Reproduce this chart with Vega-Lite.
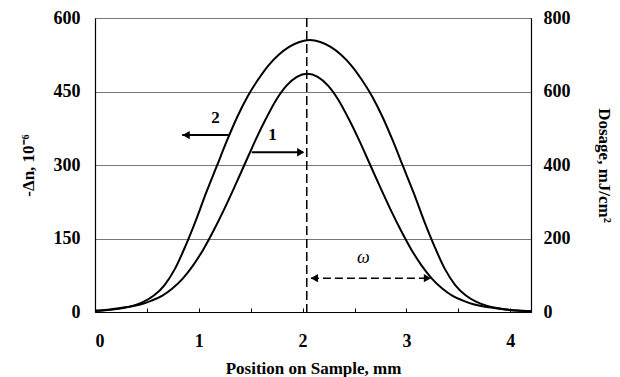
{
  "$schema": "https://vega.github.io/schema/vega-lite/v6.json",
  "width": 436,
  "height": 294,
  "autosize": "none",
  "padding": {"left": 95, "top": 18, "right": 89, "bottom": 65},
  "background": "white",
  "config": {
    "view": {"stroke": "black", "strokeWidth": 1},
    "font": "Liberation Serif",
    "axis": {
      "labelFont": "Liberation Serif",
      "titleFont": "Liberation Serif",
      "labelFontWeight": "bold",
      "titleFontWeight": "bold",
      "labelFontSize": 18,
      "titleFontSize": 17,
      "labelColor": "black",
      "titleColor": "black",
      "domainColor": "black",
      "domainWidth": 1.2,
      "tickColor": "black"
    }
  },
  "datasets": {
    "dn": [
      {"x": 0, "v": 2}, {"x": 0.07, "v": 3}, {"x": 0.17, "v": 5}, {"x": 0.27, "v": 8},
      {"x": 0.37, "v": 13}, {"x": 0.47, "v": 21}, {"x": 0.57, "v": 34}, {"x": 0.67, "v": 55},
      {"x": 0.77, "v": 88}, {"x": 0.87, "v": 134}, {"x": 0.97, "v": 186}, {"x": 1.07, "v": 243},
      {"x": 1.17, "v": 296}, {"x": 1.27, "v": 349}, {"x": 1.37, "v": 398}, {"x": 1.47, "v": 440},
      {"x": 1.57, "v": 474}, {"x": 1.67, "v": 503}, {"x": 1.77, "v": 525}, {"x": 1.87, "v": 541},
      {"x": 1.97, "v": 551}, {"x": 2.07, "v": 555}, {"x": 2.17, "v": 551}, {"x": 2.27, "v": 541},
      {"x": 2.37, "v": 525}, {"x": 2.47, "v": 503}, {"x": 2.57, "v": 474}, {"x": 2.67, "v": 440},
      {"x": 2.77, "v": 398}, {"x": 2.87, "v": 349}, {"x": 2.97, "v": 296}, {"x": 3.07, "v": 243},
      {"x": 3.17, "v": 186}, {"x": 3.27, "v": 134}, {"x": 3.37, "v": 88}, {"x": 3.47, "v": 55},
      {"x": 3.57, "v": 34}, {"x": 3.67, "v": 21}, {"x": 3.77, "v": 13}, {"x": 3.87, "v": 8},
      {"x": 3.97, "v": 5}, {"x": 4.07, "v": 3}, {"x": 4.2, "v": 2}
    ],
    "dose": [
      {"x": 0, "d": 4}, {"x": 0.045, "d": 4}, {"x": 0.145, "d": 7}, {"x": 0.245, "d": 11},
      {"x": 0.345, "d": 15}, {"x": 0.445, "d": 21}, {"x": 0.545, "d": 31}, {"x": 0.645, "d": 44},
      {"x": 0.745, "d": 64}, {"x": 0.845, "d": 91}, {"x": 0.945, "d": 127}, {"x": 1.045, "d": 171},
      {"x": 1.145, "d": 223}, {"x": 1.245, "d": 280}, {"x": 1.345, "d": 341}, {"x": 1.445, "d": 404},
      {"x": 1.545, "d": 467}, {"x": 1.645, "d": 525}, {"x": 1.745, "d": 577}, {"x": 1.845, "d": 616},
      {"x": 1.945, "d": 640}, {"x": 2.045, "d": 648}, {"x": 2.145, "d": 640}, {"x": 2.245, "d": 616},
      {"x": 2.345, "d": 577}, {"x": 2.445, "d": 525}, {"x": 2.545, "d": 467}, {"x": 2.645, "d": 404},
      {"x": 2.745, "d": 341}, {"x": 2.845, "d": 280}, {"x": 2.945, "d": 223}, {"x": 3.045, "d": 171},
      {"x": 3.145, "d": 127}, {"x": 3.245, "d": 91}, {"x": 3.345, "d": 64}, {"x": 3.445, "d": 44},
      {"x": 3.545, "d": 31}, {"x": 3.645, "d": 21}, {"x": 3.745, "d": 15}, {"x": 3.845, "d": 11},
      {"x": 3.945, "d": 7}, {"x": 4.045, "d": 4}, {"x": 4.145, "d": 3}, {"x": 4.2, "d": 3}
    ],
    "vline": [{"x": 2.04}],
    "solidArrows": [
      {"x": 1.3, "x2": 0.84, "y": 361},
      {"x": 1.51, "x2": 2.0, "y": 326}
    ],
    "dashArrow": [{"x": 2.08, "x2": 3.22, "y": 69}],
    "headsLeft": [{"x": 0.82, "y": 361}, {"x": 2.055, "y": 69}],
    "headsRight": [{"x": 2.04, "y": 326}, {"x": 3.26, "y": 69}],
    "labels": [
      {"x": 1.16, "y": 395, "t": "2"},
      {"x": 1.71, "y": 361, "t": "1"}
    ],
    "omega": [{"x": 2.585, "y": 110, "t": "ω"}]
  },
  "encoding": {
    "x": {
      "field": "x",
      "type": "quantitative",
      "scale": {"domain": [0, 4.2], "nice": false, "zero": false},
      "axis": {
        "values": [0, 0.5, 1, 1.5, 2, 2.5, 3, 3.5, 4],
        "labelExpr": "datum.value % 1 === 0 ? format(datum.value, 'd') : ''",
        "tickSize": -4,
        "labelPadding": 24,
        "grid": false,
        "title": "Position on Sample, mm",
        "titlePadding": 10
      }
    }
  },
  "layer": [
    {
      "layer": [
        {
          "data": {"name": "dn"},
          "mark": {"type": "line", "color": "black", "strokeWidth": 2, "interpolate": "monotone"},
          "encoding": {
            "y": {
              "field": "v",
              "type": "quantitative",
              "scale": {"domain": [0, 600], "nice": false},
              "axis": {
                "values": [0, 150, 300, 450, 600],
                "grid": true,
                "gridColor": "#777",
                "gridWidth": 1,
                "tickSize": 0,
                "labelPadding": 15,
                "title": "-Δn, 10⁻⁶",
                "titlePadding": 16
              }
            }
          }
        },
        {
          "data": {"name": "vline"},
          "mark": {"type": "rule", "color": "black", "strokeWidth": 1.5, "strokeDash": [9, 4]},
          "encoding": {}
        },
        {
          "data": {"name": "solidArrows"},
          "mark": {"type": "rule", "color": "black", "strokeWidth": 2},
          "encoding": {
            "x2": {"field": "x2"},
            "y": {"field": "y", "type": "quantitative"}
          }
        },
        {
          "data": {"name": "dashArrow"},
          "mark": {"type": "rule", "color": "black", "strokeWidth": 1.5, "strokeDash": [8, 4]},
          "encoding": {
            "x2": {"field": "x2"},
            "y": {"field": "y", "type": "quantitative"}
          }
        },
        {
          "data": {"name": "headsLeft"},
          "mark": {"type": "point", "shape": "triangle-left", "filled": true, "color": "black", "opacity": 1, "size": 70, "xOffset": 6},
          "encoding": {
            "y": {"field": "y", "type": "quantitative"}
          }
        },
        {
          "data": {"name": "headsRight"},
          "mark": {"type": "point", "shape": "triangle-right", "filled": true, "color": "black", "opacity": 1, "size": 70, "xOffset": -6},
          "encoding": {
            "y": {"field": "y", "type": "quantitative"}
          }
        },
        {
          "data": {"name": "labels"},
          "mark": {"type": "text", "font": "Liberation Serif", "fontWeight": "bold", "fontSize": 17, "color": "black"},
          "encoding": {
            "y": {"field": "y", "type": "quantitative"},
            "text": {"field": "t"}
          }
        },
        {
          "data": {"name": "omega"},
          "mark": {"type": "text", "font": "Liberation Serif", "fontStyle": "italic", "fontSize": 18, "color": "black"},
          "encoding": {
            "y": {"field": "y", "type": "quantitative"},
            "text": {"field": "t"}
          }
        }
      ]
    },
    {
      "data": {"name": "dose"},
      "mark": {"type": "line", "color": "black", "strokeWidth": 2, "interpolate": "monotone"},
      "encoding": {
        "y": {
          "field": "d",
          "type": "quantitative",
          "scale": {"domain": [0, 800], "nice": false},
          "axis": {
            "orient": "right",
            "values": [0, 200, 400, 600, 800],
            "grid": false,
            "tickSize": 0,
            "labelPadding": 12,
            "title": "Dosage, mJ/cm²",
            "titleAngle": 90,
            "titlePadding": 24
          }
        }
      }
    }
  ],
  "resolve": {"scale": {"y": "independent"}}
}
